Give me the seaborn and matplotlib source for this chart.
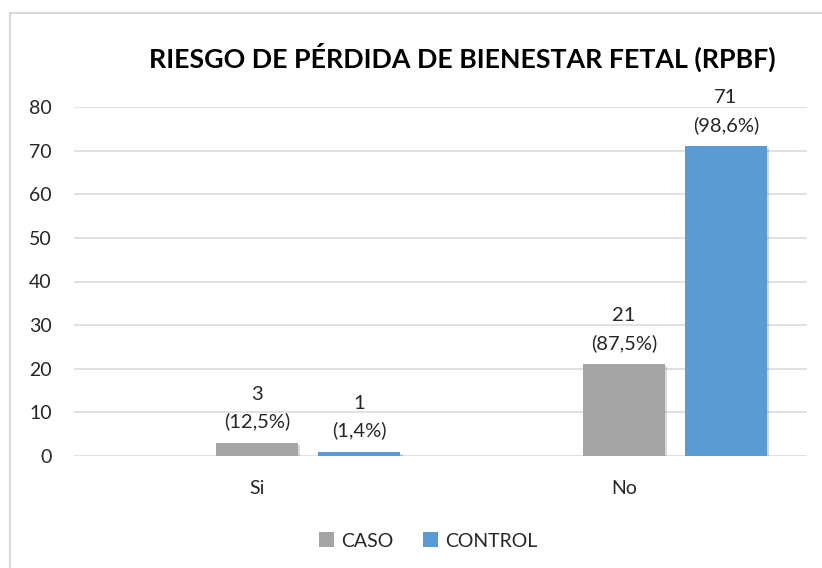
import matplotlib
matplotlib.use("Agg")
import matplotlib.pyplot as plt
from matplotlib.patches import Rectangle, Patch
import matplotlib.patheffects as pe
import pandas as pd
import seaborn as sns

categories = ["Si", "No"]
series = ["CASO", "CONTROL"]
caso = [3, 21]
control = [1, 71]
caso_pct = ["12,5%", "87,5%"]
control_pct = ["1,4%", "98,6%"]
y_ticks = [0, 10, 20, 30, 40, 50, 60, 70, 80]
title = "RIESGO DE PÉRDIDA DE BIENESTAR FETAL (RPBF)"

# Excel draws an empty third series in front, which shifts the visible bars right
rows = []
for i, cat in enumerate(categories):
    rows.append({"cat": cat, "serie": "_vacio", "valor": 0})
    rows.append({"cat": cat, "serie": "CASO", "valor": caso[i]})
    rows.append({"cat": cat, "serie": "CONTROL", "valor": control[i]})
df = pd.DataFrame(rows)

sns.set_theme(style="white")
plt.rcParams["font.family"] = ["Lato", "DejaVu Sans"]
text_color = "#262626"
palette = {"_vacio": "none", "CASO": "#A5A5A5", "CONTROL": "#5B9BD5"}

fig = plt.figure(figsize=(8.22, 5.68), dpi=100)
ax = fig.add_axes([74 / 822, 1 - 456 / 568, (807 - 74) / 822, (456 - 107) / 568])

sns.barplot(
    data=df, x="cat", y="valor", hue="serie",
    hue_order=["_vacio"] + series, order=categories,
    palette=palette, saturation=1, width=0.836, gap=0.196, ax=ax,
    legend=False, zorder=3, linewidth=0,
)
for cont in ax.containers[1:]:
    for bar in cont:
        bar.set_path_effects([pe.SimplePatchShadow(offset=(1.5, -1.5), alpha=0.18),
                              pe.Normal()])

ax.set_xlim(-0.5, 1.5)
ax.set_ylim(0, 80)
ax.set_yticks(y_ticks)
ax.yaxis.grid(True, color="#D9D9D9", linewidth=1.1, zorder=0)
ax.set_axisbelow(True)
for s in ax.spines.values():
    s.set_visible(False)
ax.set_xlabel("")
ax.set_ylabel("")
ax.tick_params(axis="y", length=0, pad=16, labelsize=14, labelcolor=text_color)
ax.tick_params(axis="x", length=0, pad=17, labelsize=14, labelcolor=text_color)

labels = {
    "CASO": [f"{v}\n({p})" for v, p in zip(caso, caso_pct)],
    "CONTROL": [f"{v}\n({p})" for v, p in zip(control, control_pct)],
}
for cont, name in zip(ax.containers[1:], series):
    ax.bar_label(cont, labels=labels[name], padding=9, fontsize=14.5,
                 color=text_color, linespacing=1.65)

fig.text(462 / 822, 1 - 57 / 568, title, ha="center", va="center",
         fontsize=19.3, fontweight="bold", color="black")

handles = [Patch(facecolor=palette[s], edgecolor="none") for s in series]
fig.legend(handles, series, loc="center", bbox_to_anchor=(428 / 822, 1 - 541 / 568),
           ncol=2, frameon=False, fontsize=14, handlelength=0.8, handleheight=0.8,
           handletextpad=0.35, columnspacing=1.5, labelcolor=text_color)

fig.patches.append(Rectangle((10 / 822, -0.1), 1.2, 1.1 - 13 / 568, transform=fig.transFigure,
                             fill=False, edgecolor="#D9D9D9", linewidth=1.5))

fig.savefig("out.png", dpi=100)
